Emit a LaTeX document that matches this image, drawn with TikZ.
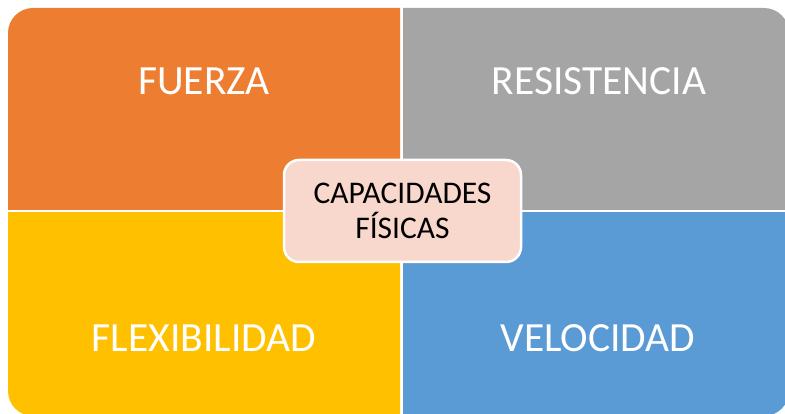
\documentclass[tikz,border=0pt]{standalone}
\usepackage{fontspec}
\setmainfont{Carlito}
\definecolor{cOrange}{HTML}{ED7D31}
\definecolor{cGray}{HTML}{A5A5A5}
\definecolor{cYellow}{HTML}{FFC000}
\definecolor{cBlue}{HTML}{5B9BD5}
\definecolor{cPink}{HTML}{F8D7CD}
\begin{document}
\begin{tikzpicture}[x=1pt,y=-1pt,
  quadlabel/.style={text=white,anchor=base,inner sep=0pt,font=\fontsize{41.5}{48}\selectfont},
  quadfill/.style={rounded corners=25pt},
  centerbox/.style={fill=cPink,draw=white,line width=2.5pt,rounded corners=15pt,
    minimum width=237pt,minimum height=102pt,align=center,text=black,
    font=\fontsize{31.5}{35}\selectfont,inner sep=0pt}]
\clip (0,0) rectangle (785,414);
\fill[white] (0,0) rectangle (785,414);
\begin{scope}
  \clip (0,0) rectangle (400,210);
  \fill[cOrange,quadfill] (8,8) rectangle (789,416);
\end{scope}
\begin{scope}
  \clip (403,0) rectangle (800,210);
  \fill[cGray,quadfill] (8,8) rectangle (789,416);
\end{scope}
\begin{scope}
  \clip (0,213) rectangle (400,430);
  \fill[cYellow,quadfill] (8,8) rectangle (789,416);
\end{scope}
\begin{scope}
  \clip (403,213) rectangle (800,430);
  \fill[cBlue,quadfill] (8,8) rectangle (789,416);
\end{scope}
\node[quadlabel] (fuerza) at (204,95) {FUERZA};
\node[quadlabel] (resistencia) at (599,95) {RESISTENCIA};
\node[quadlabel] (flexibilidad) at (204,352) {FLEXIBILIDAD};
\node[quadlabel] (velocidad) at (598,352) {VELOCIDAD};
\node[centerbox] (cap) at (402.5,211) {CAPACIDADES\\FÍSICAS};
\end{tikzpicture}
\end{document}
